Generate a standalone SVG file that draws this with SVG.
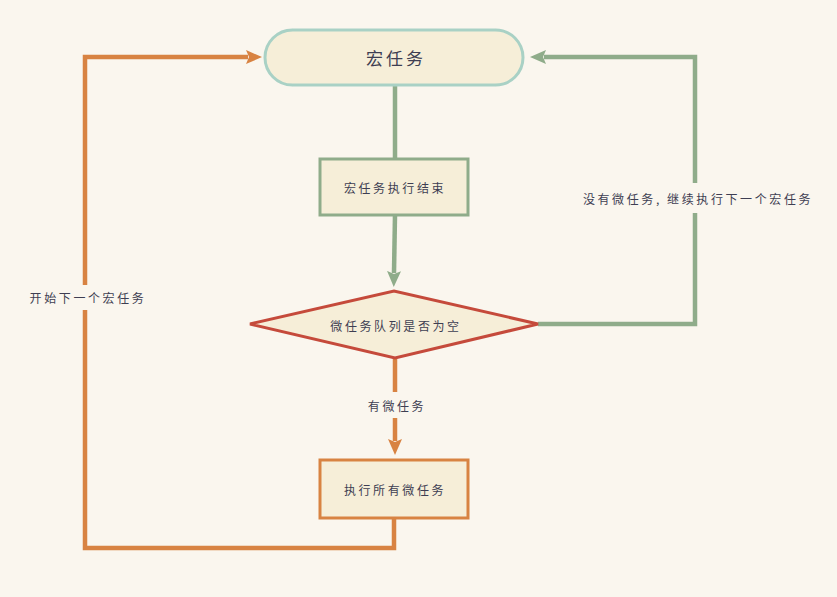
<svg xmlns="http://www.w3.org/2000/svg" width="837" height="597" viewBox="0 0 837 597">
<defs>
<style>
.t{font-family:"Noto Sans CJK SC","Noto Sans",sans-serif;fill:#3e3e52;text-anchor:middle;dominant-baseline:central}
.s{font-size:12px;letter-spacing:2.6px}
.box{fill:#f6eed8;stroke-width:3}
.g{fill:none;stroke:#8fac8a;stroke-width:4.5;stroke-linejoin:miter}
.o{fill:none;stroke:#d88342;stroke-width:4.5;stroke-linejoin:miter}
</style>
<marker id="ag" viewBox="0 0 16 14" markerWidth="16" markerHeight="14" markerUnits="userSpaceOnUse" refX="2" refY="7" orient="auto">
<path d="M0,0 L16,7 L0,14 L3,7 z" fill="#8fac8a"/>
</marker>
<marker id="ao" viewBox="0 0 16 14" markerWidth="16" markerHeight="14" markerUnits="userSpaceOnUse" refX="2" refY="7" orient="auto">
<path d="M0,0 L16,7 L0,14 L3,7 z" fill="#d88342"/>
</marker>
</defs>
<rect width="837" height="597" fill="#faf6ee"/>
<g id="connectors">
<path class="g" d="M395,85 L395,158"/>
<path class="g" d="M395,215 L394,273" marker-end="url(#ag)"/>
<path class="o" d="M395,358 L395,392"/>
<path class="o" d="M395,418 L395,441" marker-end="url(#ao)"/>
<path class="o" d="M394,518 L394,548 L85,548 L85,310"/>
<path class="o" d="M85,285 L85,57 L248,57" marker-end="url(#ao)"/>
<path class="g" d="M538,324 L695,324 L695,213"/>
<path class="g" d="M695,183 L695,57 L544,57" marker-end="url(#ag)"/>
<text class="t s" x="397" y="405">有微任务</text>
<text class="t s" x="88" y="297">开始下一个宏任务</text>
<text class="t s" x="698" y="198">没有微任务, 继续执行下一个宏任务</text>
</g>
<g id="macro">
<rect class="box" x="265" y="30" width="258" height="55" rx="27.5" stroke="#a9d1c5"/>
<text class="t" x="396" y="57" style="font-size:17px;letter-spacing:3px">宏任务</text>
</g>
<g id="macroEnd">
<rect class="box" x="320" y="159" width="148" height="56" stroke="#8fac8a"/>
<text class="t s" x="395" y="187">宏任务执行结束</text>
</g>
<g id="decision">
<path class="box" d="M250,324 L394,291 L538,324 L395,358 z" stroke="#c54a3b" stroke-width="2.5"/>
<text class="t s" x="396" y="325">微任务队列是否为空</text>
</g>
<g id="runMicro">
<rect class="box" x="320" y="460" width="148" height="58" stroke="#d88342"/>
<text class="t s" x="395" y="489">执行所有微任务</text>
</g>
</svg>
